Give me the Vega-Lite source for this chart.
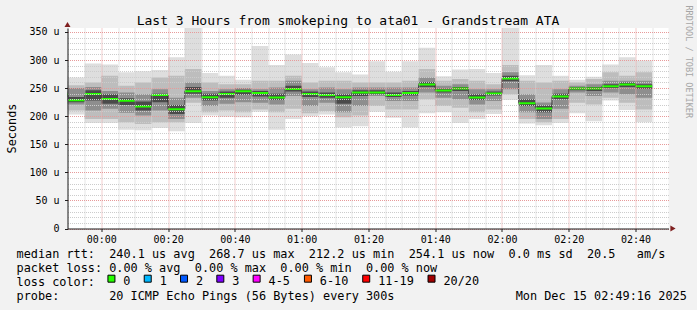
{
  "$schema": "https://vega.github.io/schema/vega-lite/v6.json",
  "width": 601,
  "height": 200.5,
  "autosize": {"type": "none"},
  "padding": {"left": 67.5, "top": 28, "right": 28.5, "bottom": 81.5},
  "background": "#f2f2f2",
  "view": {"fill": "#ffffff", "stroke": null},
  "config": {"font": "DejaVu Sans Mono"},
  "title": {
    "text": "Last 3 Hours from smokeping to ata01 - Grandstream ATA",
    "font": "DejaVu Sans Mono", "fontSize": 13, "fontWeight": "normal", "color": "#000000",
    "anchor": "middle", "frame": "group", "dx": -20, "offset": -33, "baseline": "alphabetic"
  },
  "data": {"values": [
    {"min":-15,"min2":-10,"mn":205,"p10":212,"p25":222,"p40":234,"md":239,"p60":244,"p75":252,"p90":262,"mx":272,"loss":"0"},
    {"min":-10,"min2":-5,"mn":203,"p10":210,"p25":221,"p40":225,"md":228.5,"p60":234,"p75":250,"p90":255,"mx":269,"loss":"0"},
    {"min":-5,"min2":0,"mn":188,"p10":195,"p25":210,"p40":228,"md":239.3,"p60":246,"p75":252,"p90":260,"mx":294,"loss":"0"},
    {"min":0,"min2":5,"mn":188,"p10":195,"p25":213,"p40":222,"md":230.4,"p60":239,"p75":245,"p90":272,"mx":292,"loss":"0"},
    {"min":5,"min2":10,"mn":176,"p10":189,"p25":206,"p40":220,"md":227.4,"p60":232,"p75":242,"p90":254,"mx":278,"loss":"0"},
    {"min":10,"min2":15,"mn":175,"p10":186,"p25":201,"p40":210,"md":217.3,"p60":226,"p75":239,"p90":260,"mx":280,"loss":"0"},
    {"min":15,"min2":20,"mn":179,"p10":189,"p25":210,"p40":225,"md":237.5,"p60":240,"p75":248,"p90":269,"mx":282,"loss":"0"},
    {"min":20,"min2":25,"mn":173,"p10":189,"p25":195,"p40":204,"md":212.5,"p60":220,"p75":233,"p90":272,"mx":305,"loss":"0"},
    {"min":25,"min2":30,"mn":188,"p10":224,"p25":233,"p40":240,"md":244.6,"p60":252,"p75":260,"p90":284,"mx":357,"loss":"0"},
    {"min":30,"min2":35,"mn":201,"p10":207,"p25":218,"p40":228,"md":233.9,"p60":240,"p75":245,"p90":260,"mx":277,"loss":"0"},
    {"min":35,"min2":40,"mn":199,"p10":210,"p25":222,"p40":233,"md":239.3,"p60":244,"p75":248,"p90":257,"mx":272,"loss":"0"},
    {"min":40,"min2":45,"mn":198,"p10":207,"p25":225,"p40":238,"md":244.6,"p60":247,"p75":250,"p90":257,"mx":265,"loss":"0"},
    {"min":45,"min2":50,"mn":208,"p10":212,"p25":224,"p40":235,"md":241.1,"p60":245,"p75":248,"p90":263,"mx":325,"loss":"0"},
    {"min":50,"min2":55,"mn":176,"p10":207,"p25":221,"p40":229,"md":233.3,"p60":240,"p75":251,"p90":263,"mx":291,"loss":"0"},
    {"min":55,"min2":60,"mn":195,"p10":213,"p25":236,"p40":244,"md":248.2,"p60":254,"p75":263,"p90":272,"mx":310,"loss":"0"},
    {"min":60,"min2":65,"mn":200,"p10":205,"p25":218,"p40":234,"md":239.3,"p60":244,"p75":248,"p90":260,"mx":294.5,"loss":"0"},
    {"min":65,"min2":70,"mn":203,"p10":209,"p25":224,"p40":233,"md":237.5,"p60":242,"p75":251,"p90":263,"mx":287,"loss":"0"},
    {"min":70,"min2":75,"mn":180,"p10":198,"p25":207,"p40":222,"md":233.9,"p60":239,"p75":248,"p90":263,"mx":278,"loss":"0"},
    {"min":75,"min2":80,"mn":182,"p10":201,"p25":218,"p40":236,"md":242.2,"p60":246,"p75":251,"p90":260,"mx":274,"loss":"0"},
    {"min":80,"min2":85,"mn":208,"p10":218,"p25":236,"p40":239,"md":242.2,"p60":246,"p75":251,"p90":260,"mx":298,"loss":"0"},
    {"min":85,"min2":90,"mn":197,"p10":212,"p25":227,"p40":234,"md":237.5,"p60":242,"p75":251,"p90":260,"mx":279,"loss":"0"},
    {"min":90,"min2":95,"mn":180,"p10":212,"p25":227,"p40":237,"md":241.1,"p60":245,"p75":251,"p90":263,"mx":298,"loss":"0"},
    {"min":95,"min2":100,"mn":205,"p10":230,"p25":242,"p40":252,"md":256.5,"p60":261,"p75":269,"p90":284,"mx":322,"loss":"0"},
    {"min":100,"min2":105,"mn":207,"p10":218,"p25":233,"p40":242,"md":245.8,"p60":249,"p75":254,"p90":263,"mx":271,"loss":"0"},
    {"min":105,"min2":110,"mn":188,"p10":215,"p25":230,"p40":245,"md":249.4,"p60":252,"p75":257,"p90":266,"mx":283,"loss":"0"},
    {"min":110,"min2":115,"mn":195,"p10":207,"p25":221,"p40":229,"md":233.3,"p60":239,"p75":248,"p90":263,"mx":284,"loss":"0"},
    {"min":115,"min2":120,"mn":204,"p10":212,"p25":227,"p40":237,"md":240.5,"p60":244,"p75":248,"p90":257,"mx":277,"loss":"0"},
    {"min":120,"min2":125,"mn":229,"p10":239,"p25":248,"p40":262,"md":267.2,"p60":272,"p75":278,"p90":291,"mx":357,"loss":"0"},
    {"min":125,"min2":130,"mn":187,"p10":195,"p25":207,"p40":218,"md":223.2,"p60":230,"p75":239,"p90":263,"mx":273,"loss":"0"},
    {"min":130,"min2":135,"mn":184,"p10":189,"p25":195,"p40":207,"md":213.7,"p60":219,"p75":224.5,"p90":260,"mx":291,"loss":"0"},
    {"min":135,"min2":140,"mn":188,"p10":195,"p25":213,"p40":230,"md":235.1,"p60":240,"p75":248,"p90":263,"mx":272,"loss":"0"},
    {"min":140,"min2":145,"mn":205,"p10":224,"p25":242,"p40":246,"md":249.4,"p60":251,"p75":254,"p90":260,"mx":265,"loss":"0"},
    {"min":145,"min2":150,"mn":191,"p10":221,"p25":236,"p40":245,"md":249.4,"p60":252,"p75":257,"p90":266,"mx":270,"loss":"0"},
    {"min":150,"min2":155,"mn":228,"p10":233,"p25":242,"p40":250,"md":253.5,"p60":257,"p75":263,"p90":278,"mx":292,"loss":"0"},
    {"min":155,"min2":160,"mn":211,"p10":224,"p25":239,"p40":252,"md":256.5,"p60":260,"p75":263,"p90":272,"mx":305,"loss":"0"},
    {"min":160,"min2":165,"mn":189,"p10":212,"p25":233,"p40":249,"md":253.5,"p60":257,"p75":263,"p90":278,"mx":299,"loss":"0"}
  ]},
  "resolve": {"axis": {"y": "independent"}},
  "layer": [
    {
      "mark": {"type": "rect", "color": "#dedede", "clip": true},
      "encoding": {
        "x": {"field": "min", "type": "quantitative",
          "scale": {"nice": false, "zero": false, "domain": [-10.133, 169.867]},
          "axis": {
            "zindex": 1,
            "values": [-10,-5,0,5,10,15,20,25,30,35,40,45,50,55,60,65,70,75,80,85,90,95,100,105,110,115,120,125,130,135,140,145,150,155,160,165],
            "tickCount": 60,
            "labelExpr": "datum.value % 20 === 0 ? ('0' + floor(datum.value / 60) + ':' + (datum.value % 60 === 0 ? '00' : '' + (datum.value % 60))) : ''",
            "labelOverlap": false, "labelFlush": false, "labelBound": false,
            "labelFont": "DejaVu Sans Mono", "labelFontSize": 10, "labelColor": "#000000",
            "labelBaseline": "top", "labelPadding": 2.5, "labelAngle": 0,
            "grid": true, "gridDash": [1, 1], "gridWidth": 1,
            "gridColor": {"condition": {"test": "datum.value % 20 === 0", "value": "#e79a9a"}, "value": "#cccccc"},
            "ticks": true, "tickSize": 3, "tickColor": "#1f1f1f",
            "tickOpacity": {"condition": {"test": "datum.value % 20 === 0", "value": 1}, "value": 0},
            "domain": true, "domainColor": "#1f1f1f", "domainWidth": 1,
            "title": [
              "median\u00a0rtt:\u00a0\u00a0240.1\u00a0us\u00a0avg\u00a0\u00a0268.7\u00a0us\u00a0max\u00a0\u00a0212.2\u00a0us\u00a0min\u00a0\u00a0254.1\u00a0us\u00a0now\u00a0\u00a00.0\u00a0ms\u00a0sd\u00a0\u00a020.5\u00a0\u00a0\u00a0am/s",
              "packet\u00a0loss:\u00a00.00\u00a0%\u00a0avg\u00a0\u00a00.00\u00a0%\u00a0max\u00a0\u00a00.00\u00a0%\u00a0min\u00a0\u00a00.00\u00a0%\u00a0now",
              "loss\u00a0color:",
              "probe:\u00a0\u00a0\u00a0\u00a0\u00a0\u00a0\u00a020\u00a0ICMP\u00a0Echo\u00a0Pings\u00a0(56\u00a0Bytes)\u00a0every\u00a0300s\u00a0\u00a0\u00a0\u00a0\u00a0\u00a0\u00a0\u00a0\u00a0\u00a0\u00a0\u00a0\u00a0\u00a0\u00a0\u00a0\u00a0Mon\u00a0Dec\u00a015\u00a002:49:16\u00a02025"
            ],
            "titleFont": "DejaVu Sans Mono", "titleFontSize": 11.85, "titleFontWeight": "normal",
            "titleColor": "#000000", "titleAlign": "left", "titleBaseline": "alphabetic",
            "titleX": -51.5, "titleY": 29, "titleLineHeight": 14, "titleAngle": 0
          }
        },
        "x2": {"field": "min2"},
        "y": {"field": "mn", "type": "quantitative",
          "scale": {"domain": [0, 357], "nice": false, "zero": false},
          "axis": {
            "orient": "left",
            "zindex": 1,
            "values": [0,10,20,30,40,50,60,70,80,90,100,110,120,130,140,150,160,170,180,190,200,210,220,230,240,250,260,270,280,290,300,310,320,330,340,350],
            "tickCount": 60,
            "labelExpr": "datum.value % 50 === 0 ? (datum.value === 0 ? '0' : datum.value + ' u') : ''",
            "labelOverlap": false, "labelBound": false, "labelFlush": false,
            "labelFont": "DejaVu Sans Mono", "labelFontSize": 10, "labelColor": "#000000", "labelPadding": 5.5,
            "grid": true, "gridDash": [1, 1], "gridWidth": 1,
            "gridColor": {"condition": {"test": "datum.value % 50 === 0", "value": "#e79a9a"}, "value": "#cccccc"},
            "ticks": true, "tickSize": 3, "tickColor": "#1f1f1f",
            "tickOpacity": {"condition": {"test": "datum.value % 50 === 0", "value": 1}, "value": 0},
            "domain": true, "domainColor": "#1f1f1f", "domainWidth": 1,
            "title": "Seconds",
            "titleFont": "DejaVu Sans Mono", "titleFontSize": 11.85, "titleFontWeight": "normal", "titleColor": "#000000",
            "titleAngle": 270, "titleAlign": "center", "titleBaseline": "middle",
            "titleX": -56.5, "titleY": 100
          }
        },
        "y2": {"field": "mx"}
      }
    },
    {
      "mark": {"type": "rect", "color": "#bdbdbd", "clip": true},
      "encoding": {
        "x": {"field": "min", "type": "quantitative"}, "x2": {"field": "min2"},
        "y": {"field": "p10", "type": "quantitative", "axis": null}, "y2": {"field": "p90"}
      }
    },
    {
      "mark": {"type": "rect", "color": "#8e8e8e", "clip": true},
      "encoding": {
        "x": {"field": "min", "type": "quantitative"}, "x2": {"field": "min2"},
        "y": {"field": "p25", "type": "quantitative", "axis": null}, "y2": {"field": "p75"}
      }
    },
    {
      "mark": {"type": "rect", "color": "#4a4a4a", "clip": true},
      "encoding": {
        "x": {"field": "min", "type": "quantitative"}, "x2": {"field": "min2"},
        "y": {"field": "p40", "type": "quantitative", "axis": null}, "y2": {"field": "p60"}
      }
    },
    {
      "mark": {"type": "line", "interpolate": "step-after", "color": "#1a1a1a", "strokeWidth": 1, "clip": true},
      "encoding": {
        "x": {"field": "min", "type": "quantitative"},
        "y": {"field": "md", "type": "quantitative", "axis": null}
      }
    },
    {
      "mark": {"type": "rule", "color": "#26ff00", "strokeWidth": 2, "clip": true},
      "encoding": {
        "x": {"field": "min", "type": "quantitative"}, "x2": {"field": "min2"},
        "y": {"field": "md", "type": "quantitative", "axis": null}
      }
    },
    {
      "mark": {"type": "point", "shape": "square", "filled": true, "opacity": 0},
      "encoding": {
        "x": {"field": "min", "type": "quantitative"},
        "y": {"field": "md", "type": "quantitative", "axis": null},
        "color": {"field": "loss", "type": "nominal",
          "scale": {"domain": ["0", "1", "2", "3", "4-5", "6-10", "11-19", "20/20"],
                    "range": ["#26ff00", "#00b8ff", "#0059ff", "#7e00ff", "#ff00ff", "#ff5a00", "#ff0000", "#a10000"]},
          "legend": {
            "orient": "none", "legendX": 38, "legendY": 244.4, "direction": "horizontal", "columns": 8,
            "title": null, "padding": 0, "symbolType": "square", "symbolSize": 49,
            "symbolStrokeColor": "#000000", "symbolStrokeWidth": 1, "symbolOpacity": 1,
            "labelFont": "DejaVu Sans Mono", "labelFontSize": 11.85, "labelColor": "#000000",
            "labelOffset": 6, "columnPadding": 11.3, "labelBaseline": "middle",
            "encode": {"labels": {"update": {"dy": {"value": 2.5}}}}
          }
        }
      }
    },
    {
      "data": {"values": [{"arrow": "y"}]},
      "mark": {"type": "point", "shape": "triangle-up", "filled": true, "color": "#7f1f1f", "size": 36, "opacity": 1, "yOffset": -3.5, "clip": false},
      "encoding": {
        "x": {"datum": -10.133, "type": "quantitative"},
        "y": {"datum": 357, "type": "quantitative", "axis": null}
      }
    },
    {
      "data": {"values": [{"arrow": "x"}]},
      "mark": {"type": "point", "shape": "triangle-right", "filled": true, "color": "#7f1f1f", "size": 36, "opacity": 1, "xOffset": 4.5, "clip": false},
      "encoding": {
        "x": {"datum": 169.867, "type": "quantitative"},
        "y": {"datum": 0, "type": "quantitative", "axis": null}
      }
    },
    {
      "mark": {"type": "rule", "opacity": 0},
      "encoding": {
        "y": {"field": "md", "type": "quantitative",
          "axis": {
            "orient": "right", "labels": false, "ticks": false, "domain": false, "grid": false,
            "title": "RRDTOOL / TOBI OETIKER",
            "titleFont": "DejaVu Sans Mono", "titleFontSize": 8.5, "titleFontWeight": "normal", "titleColor": "#a6a6a6",
            "titleAngle": 90, "titleAlign": "left", "titleBaseline": "middle",
            "titleX": 20, "titleY": -23
          }
        }
      }
    }
  ]
}
